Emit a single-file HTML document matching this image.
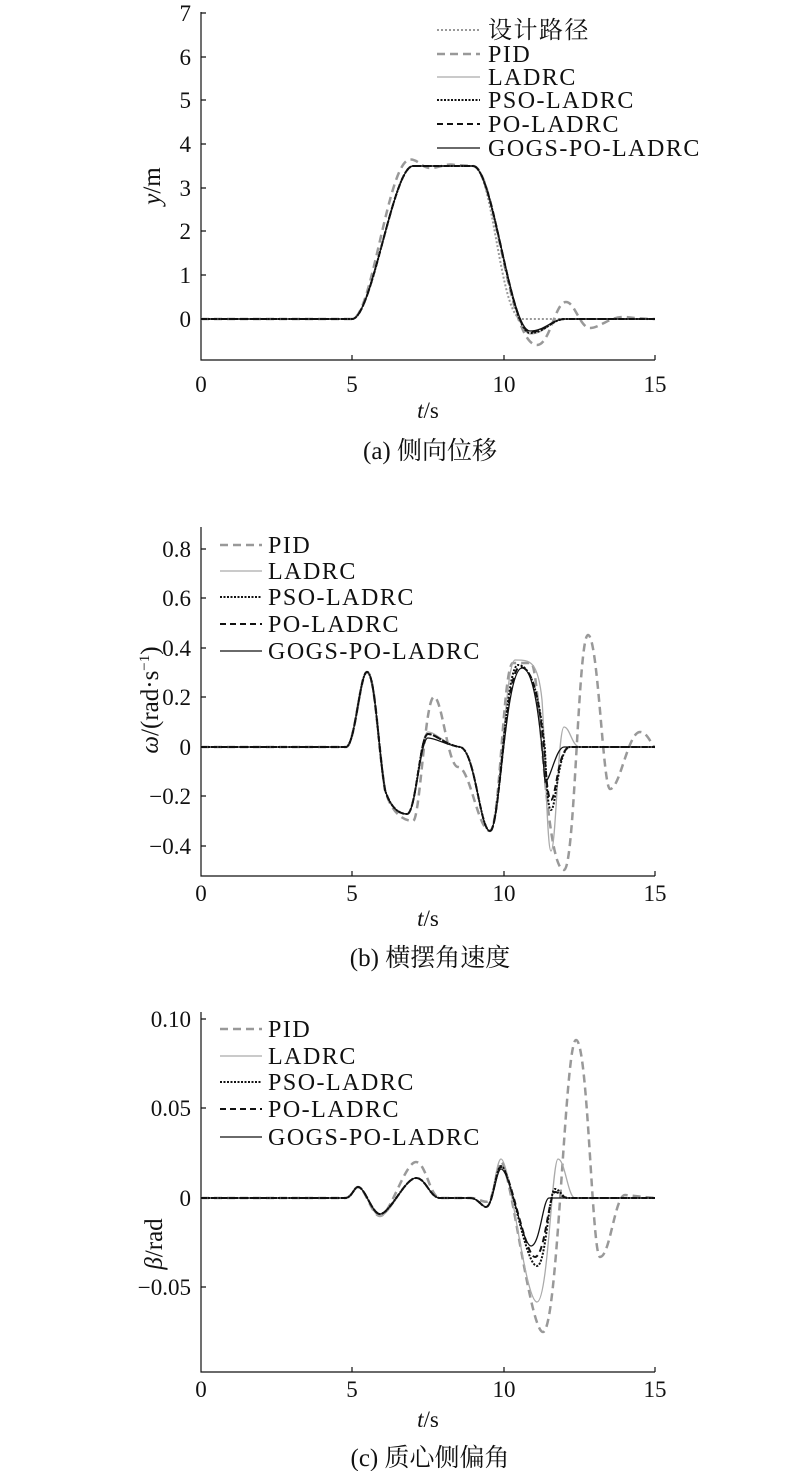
<!DOCTYPE html>
<html><head><meta charset="utf-8"><style>
body{margin:0;background:#fff}
svg{display:block}
text{font-family:"Liberation Serif","Noto Serif CJK SC",serif;fill:#111}
</style></head><body>
<svg width="800" height="1471" viewBox="0 0 800 1471" xmlns="http://www.w3.org/2000/svg">
<g stroke="#111" stroke-width="1.2" fill="none">
<path d="M201,12 V360 H655"/>
<path d="M201,319h5M201,275h5M201,231h5M201,188h5M201,144h5M201,100h5M201,57h5M201,13h5M352,360v-5M504,360v-5M655,360v-5"/>
<path d="M201,527 V876 H655"/>
<path d="M201,549h5M201,598h5M201,648h5M201,697h5M201,747h5M201,796h5M201,846h5M352,876v-5M504,876v-5M655,876v-5"/>
<path d="M201,1012 V1372 H655"/>
<path d="M201,1019h5M201,1108h5M201,1198h5M201,1287h5M352,1372v-5M504,1372v-5M655,1372v-5"/>
</g>
<g font-size="23" text-anchor="end">
<text x="191" y="327">0</text><text x="191" y="283">1</text><text x="191" y="239">2</text><text x="191" y="196">3</text><text x="191" y="152">4</text><text x="191" y="108">5</text><text x="191" y="65">6</text><text x="191" y="21">7</text>
<text x="191" y="557">0.8</text><text x="191" y="606">0.6</text><text x="191" y="656">0.4</text><text x="191" y="705">0.2</text><text x="191" y="755">0</text><text x="191" y="804">−0.2</text><text x="191" y="854">−0.4</text>
<text x="191" y="1027">0.10</text><text x="191" y="1116">0.05</text><text x="191" y="1206">0</text><text x="191" y="1295">−0.05</text>
</g>
<g font-size="23" text-anchor="middle">
<text x="201" y="392">0</text><text x="352" y="392">5</text><text x="504" y="392">10</text><text x="655" y="392">15</text>
<text x="201" y="901">0</text><text x="352" y="901">5</text><text x="504" y="901">10</text><text x="655" y="901">15</text>
<text x="201" y="1397">0</text><text x="352" y="1397">5</text><text x="504" y="1397">10</text><text x="655" y="1397">15</text>
<text x="428" y="418"><tspan font-style="italic">t</tspan>/s</text>
<text x="428" y="926"><tspan font-style="italic">t</tspan>/s</text>
<text x="428" y="1427"><tspan font-style="italic">t</tspan>/s</text>
</g>
<g font-size="25" text-anchor="middle">
<text x="430" y="459">(a) 侧向位移</text>
<text x="430" y="966">(b) 横摆角速度</text>
<text x="430" y="1466">(c) 质心侧偏角</text>
<text transform="translate(160,186) rotate(-90)"><tspan font-style="italic">y</tspan>/m</text>
<text transform="translate(158,700) rotate(-90)"><tspan font-style="italic">ω</tspan>/(rad·s<tspan font-size="15" dy="-9">−1</tspan><tspan dy="9">)</tspan></text>
<text transform="translate(162,1244) rotate(-90)"><tspan font-style="italic">β</tspan>/rad</text>
</g>
<g fill="none">
<path d="M201,319 L352,319 C372,319 393,166 413,166 L473,166 C493,166 500,319 522,319 L655,319" stroke="#999" stroke-width="2" stroke-dasharray="2,2"/>
<path d="M201,319 L352,319 C372,319 388,160 410,159.5 C418,159 422,168 430,168 C440,168 445,163 455,165 L473,166 C495,166 508,345 537,345 C550,345 555,302 566,302 C575,302 580,328 590,328 C600,328 610,316 625,317 C635,318 645,319 655,319" stroke="#999" stroke-width="2.5" stroke-dasharray="8,5"/>
<path d="M201,319 L352,319 C372,319 393,166 413,166 L473,166 C493,166 510,334 530,334 C545,334 552,319 565,319 L655,319" stroke="#aaa" stroke-width="1.3"/>
<path d="M201,319 L352,319 C372,319 393,166 413,166 L473,166 C493,166 510,333 530,333 C545,333 552,319 565,319 L655,319" stroke="#111" stroke-width="2" stroke-dasharray="2,1.5"/>
<path d="M201,319 L352,319 C372,319 393,166 413,166 L473,166 C493,166 510,332 530,332 C545,332 552,319 565,319 L655,319" stroke="#111" stroke-width="2" stroke-dasharray="6,4"/>
<path d="M201,319 L352,319 C372,319 393,166 413,166 L473,166 C493,166 510,331 530,331 C545,331 552,319 565,319 L655,319" stroke="#111" stroke-width="1.3"/>
</g>
<g fill="none">
<path d="M201,747 L346,747 C355,747 360,672 367,672 C375,672 378,747 385,790 C392,815 405,821 413,821 C420,821 425,697 434,697 C442,697 448,767 458,767 C470,767 478,831 490,831 C500,831 503,663 513,663 L531,663 C540,663 545,870 564,870 C575,870 578,635 588,635 C598,635 603,789 610,789 C620,789 628,732 640,732 C648,732 652,747 655,747" stroke="#999" stroke-width="2.5" stroke-dasharray="8,5"/>
<path d="M201,747 L346,747 C355,747 360,672 367,672 C375,672 378,747 385,790 C392,812 402,814 407,814 C416,814 420,732 428,732 C436,732 445,745 460,747 C475,749 480,831 490,831 C500,831 505,660 515,660 C530,660 538,660 542,700 C545,740 547,851 551,851 C556,851 558,727 564,727 C570,727 572,747 580,747 L655,747" stroke="#aaa" stroke-width="1.3"/>
<path d="M201,747 L346,747 C355,747 360,672 367,672 C375,672 378,747 385,790 C392,812 402,814 407,814 C416,814 420,734 428,734 C436,734 445,745 460,747 C475,749 480,831 490,831 C500,831 505,665 518,665 C532,665 540,700 545,750 C547,800 549,810 551,810 C556,810 558,747 570,747 L655,747" stroke="#111" stroke-width="2" stroke-dasharray="2,1.5"/>
<path d="M201,747 L346,747 C355,747 360,672 367,672 C375,672 378,747 385,790 C392,812 402,814 407,814 C416,814 420,734 428,734 C436,734 445,745 460,747 C475,749 480,831 490,831 C500,831 505,667 520,667 C533,667 540,700 545,760 C547,790 549,800 551,800 C556,800 558,747 570,747 L655,747" stroke="#111" stroke-width="2" stroke-dasharray="6,4"/>
<path d="M201,747 L346,747 C355,747 360,672 367,672 C375,672 378,747 385,790 C392,812 402,814 407,814 C416,814 420,738 428,738 C436,738 445,745 460,747 C475,749 480,831 490,831 C500,831 505,668 522,668 C534,668 540,720 545,782 C550,782 556,747 564,747 L655,747" stroke="#111" stroke-width="1.3"/>
</g>
<g fill="none">
<path d="M201,1198 L345,1198 C352,1198 354,1187 358,1187 C365,1187 372,1216 380,1216 C390,1216 405,1162 416,1162 C426,1162 430,1198 440,1198 L470,1198 C480,1198 485,1205 490,1200 C495,1190 498,1162 501,1162 C510,1162 530,1332 543,1332 C558,1332 565,1040 576,1040 C588,1040 592,1257 600,1257 C610,1257 615,1195 625,1195 L655,1198" stroke="#999" stroke-width="2.5" stroke-dasharray="8,5"/>
<path d="M201,1198 L345,1198 C352,1198 354,1187 358,1187 C365,1187 372,1216 380,1216 C390,1216 405,1178 416,1178 C426,1178 430,1198 440,1198 L470,1198 C478,1198 482,1207 486,1207 C493,1207 496,1159 501,1159 C510,1159 525,1302 537,1302 C548,1302 552,1159 558,1159 C565,1159 568,1198 575,1198 L655,1198" stroke="#aaa" stroke-width="1.3"/>
<path d="M201,1198 L345,1198 C352,1198 354,1187 358,1187 C365,1187 372,1214 380,1214 C390,1214 405,1178 416,1178 C426,1178 430,1198 440,1198 L470,1198 C478,1198 482,1207 486,1207 C493,1207 496,1166 501,1166 C510,1166 525,1266 537,1266 C546,1266 549,1189 555,1189 C560,1189 562,1198 568,1198 L655,1198" stroke="#111" stroke-width="2" stroke-dasharray="2,1.5"/>
<path d="M201,1198 L345,1198 C352,1198 354,1187 358,1187 C365,1187 372,1214 380,1214 C390,1214 405,1178 416,1178 C426,1178 430,1198 440,1198 L470,1198 C478,1198 482,1207 486,1207 C493,1207 496,1167 501,1167 C510,1167 525,1257 535,1257 C545,1257 549,1192 555,1192 C560,1192 562,1198 568,1198 L655,1198" stroke="#111" stroke-width="2" stroke-dasharray="6,4"/>
<path d="M201,1198 L345,1198 C352,1198 354,1187 358,1187 C365,1187 372,1214 380,1214 C390,1214 405,1178 416,1178 C426,1178 430,1198 440,1198 L470,1198 C478,1198 482,1207 486,1207 C493,1207 496,1169 501,1169 C510,1169 522,1246 531,1246 C540,1246 543,1198 549,1198 L655,1198" stroke="#111" stroke-width="1.3"/>
</g>
<g fill="none">
<path d="M437,30h43" stroke="#999" stroke-width="2" stroke-dasharray="2,2"/>
<path d="M437,54h43" stroke="#999" stroke-width="2.5" stroke-dasharray="8,5"/>
<path d="M437,77h43" stroke="#aaa" stroke-width="1.3"/>
<path d="M437,100h43" stroke="#111" stroke-width="2" stroke-dasharray="2,1.5"/>
<path d="M437,124h43" stroke="#111" stroke-width="2" stroke-dasharray="6,4"/>
<path d="M437,148h43" stroke="#111" stroke-width="1.3"/>
<path d="M220,545h42" stroke="#999" stroke-width="2.5" stroke-dasharray="8,5"/>
<path d="M220,571h42" stroke="#aaa" stroke-width="1.3"/>
<path d="M220,597h42" stroke="#111" stroke-width="2" stroke-dasharray="2,1.5"/>
<path d="M220,624h42" stroke="#111" stroke-width="2" stroke-dasharray="6,4"/>
<path d="M220,651h42" stroke="#111" stroke-width="1.3"/>
<path d="M220,1029h42" stroke="#999" stroke-width="2.5" stroke-dasharray="8,5"/>
<path d="M220,1056h42" stroke="#aaa" stroke-width="1.3"/>
<path d="M220,1082h42" stroke="#111" stroke-width="2" stroke-dasharray="2,1.5"/>
<path d="M220,1109h42" stroke="#111" stroke-width="2" stroke-dasharray="6,4"/>
<path d="M220,1137h42" stroke="#111" stroke-width="1.3"/>
</g>
<g font-size="24" letter-spacing="1.5">
<text x="488" y="38">设计路径</text><text x="488" y="62">PID</text><text x="488" y="85">LADRC</text><text x="488" y="108">PSO-LADRC</text><text x="488" y="132">PO-LADRC</text><text x="488" y="156">GOGS-PO-LADRC</text>
<text x="268" y="553">PID</text><text x="268" y="579">LADRC</text><text x="268" y="605">PSO-LADRC</text><text x="268" y="632">PO-LADRC</text><text x="268" y="659">GOGS-PO-LADRC</text>
<text x="268" y="1037">PID</text><text x="268" y="1064">LADRC</text><text x="268" y="1090">PSO-LADRC</text><text x="268" y="1117">PO-LADRC</text><text x="268" y="1145">GOGS-PO-LADRC</text>
</g>
</svg>
</body></html>
